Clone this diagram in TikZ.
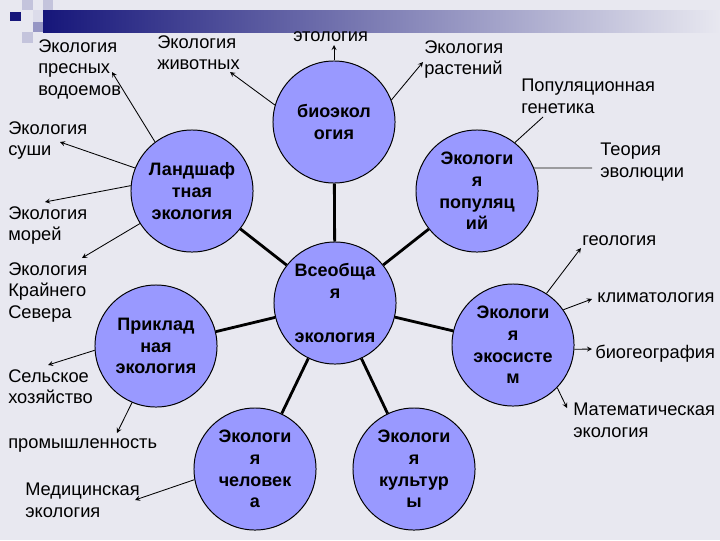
\documentclass[tikz,border=0pt]{standalone}
\usepackage{fontspec}
\setmainfont{Liberation Sans}
\usetikzlibrary{arrows,positioning}
\definecolor{fon}{RGB}{232,232,240}
\definecolor{krugfill}{RGB}{153,153,255}
\definecolor{polosa}{RGB}{22,22,122}
\definecolor{kvadr}{RGB}{196,196,220}
\definecolor{kvadrb}{RGB}{150,150,196}
\tikzset{font=\fontsize{13}{15.3}\selectfont}
\tikzstyle{krug}=[circle,draw=black,fill=krugfill,line width=0.7pt,minimum size=3.05cm,inner sep=0pt,align=center,font=\fontsize{12.8}{15.5}\selectfont\bfseries]
\tikzstyle{txt}=[anchor=north west,align=left,inner sep=0pt]
\tikzstyle{txtb}=[anchor=base west,inner sep=0pt]
\begin{document}
\begin{tikzpicture}[x=0.025cm,y=-0.025cm]
\useasboundingbox (0,0) rectangle (720,540);
\fill[fon] (0,0) rectangle (720,540);
\shade[left color=polosa,right color=fon] (43,10) rectangle (720,32);
\fill[kvadr] (22,0) rectangle (33,10);
\fill[kvadr] (43,0) rectangle (53,10);
\fill[kvadr!60!white] (33,10) rectangle (43,22);
\fill[kvadrb] (33,22) rectangle (43,32);
\fill[kvadr] (22,32) rectangle (33,43);
\fill[polosa] (10,12) rectangle (21,21);
\node[krug] (vse) at (335,303) {Всеобща\\я\\[16pt]экология};
\node[krug] (bio) at (334,122) {биоэкол\\огия};
\node[krug] (land) at (192,191) {Ландшаф\\тная\\экология};
\node[krug] (pop) at (477,191) {Экологи\\я\\популяц\\ий};
\node[krug] (prikl) at (156,346) {Приклад\\ная\\экология};
\node[krug] (eko) at (513,345) {Экологи\\я\\экосисте\\м};
\node[krug] (chel) at (255,469) {Экологи\\я\\человек\\а};
\node[krug] (kult) at (414,469) {Экологи\\я\\культур\\ы};
\path[line width=2pt]
(vse) edge (bio)
(vse) edge (land)
(vse) edge (pop)
(vse) edge (prikl)
(vse) edge (eko)
(vse) edge (chel)
(vse) edge (kult);
\node[txt] (presn) at (38,39) {Экология\\пресных\\водоемов};
\node[txt] (zhiv) at (157,35) {Экология\\животных};
\node[txtb] (etol) at (293,41) {этология};
\node[txt] (rast) at (424,40) {Экология\\растений};
\node[txt] (gen) at (521,79) {Популяционная\\генетика};
\node[txt] (evol) at (600,143) {Теория\\эволюции};
\node[txt] (sushi) at (8,121) {Экология\\суши};
\node[txt] (morei) at (8,206) {Экология\\морей};
\node[txt] (sever) at (8,262) {Экология\\Крайнего\\Севера};
\node[txt] (selsk) at (8,369) {Сельское\\хозяйство};
\node[txtb] (prom) at (8,448) {промышленность};
\node[txt] (med) at (25,483) {Медицинская\\экология};
\node[txtb] (geol) at (582,245) {геология};
\node[txtb] (klim) at (597,302) {климатология};
\node[txtb] (biog) at (595,358) {биогеография};
\node[txt] (mat) at (573,403) {Математическая\\экология};
\coordinate (presn') at (112,72);
\coordinate (sushi') at (60,142);
\coordinate (morei') at (45,202);
\coordinate (sever') at (82,258);
\coordinate (zhiv') at (230,72);
\coordinate (etol') at (334,45);
\coordinate (rast') at (423,62);
\coordinate (gen') at (543,117);
\coordinate (evol') at (592,168);
\coordinate (selsk') at (48,365);
\coordinate (prom') at (117,433);
\coordinate (med') at (135,500);
\coordinate (geol') at (581,248);
\coordinate (klim') at (592,299);
\coordinate (biog') at (592,349);
\coordinate (mat') at (567,408);
\path[->,>=stealth,line width=0.6pt]
(land.127) edge (presn')
(land.158) edge (sushi')
(land.175) edge (morei')
(land.212) edge (sever')
(bio.164) edge (zhiv')
(bio.90) edge (etol')
(bio.21) edge (rast')
(prikl.184) edge (selsk')
(prikl.247) edge (prom')
(chel.190) edge (med')
(eko.57) edge (geol')
(eko.35) edge (klim')
(eko.356) edge (biog')
(eko.316) edge (mat');
\path[line width=0.6pt]
(pop.52) edge (gen')
(pop.22) edge[draw=black!55,line width=1pt] (evol');
\end{tikzpicture}
\end{document}
